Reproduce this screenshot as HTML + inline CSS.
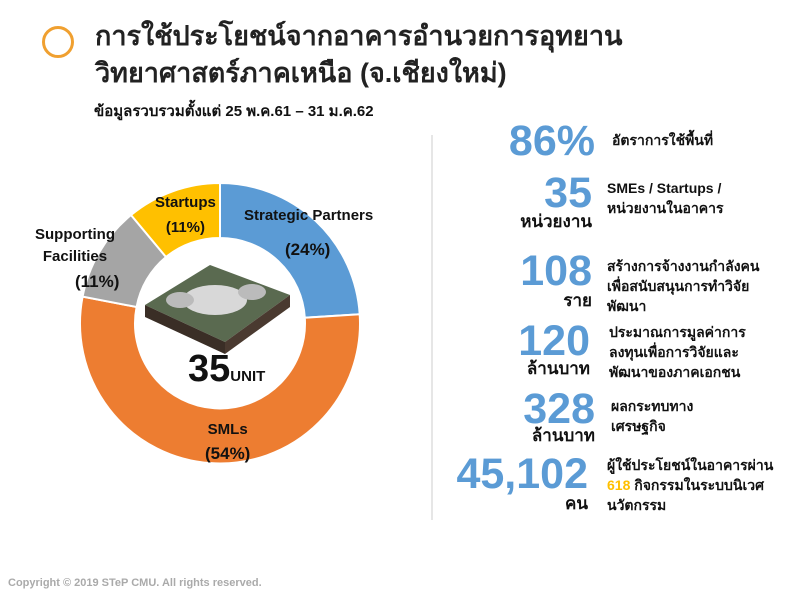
<!DOCTYPE html>
<html><head><meta charset="utf-8"><style>
body{margin:0;width:800px;height:594px;background:#fff;position:relative;overflow:hidden;font-family:"Liberation Sans","DejaVu Sans","Noto Sans CJK SC",sans-serif;font-weight:bold;color:#111}
.a{position:absolute;white-space:nowrap}
.n{color:#5b9bd5;font-size:43px;text-align:right;line-height:42px}
.u{font-size:17px;text-align:right}
.t{font-size:14px;line-height:20px}
</style></head><body>
<div class="a" style="left:42px;top:26px;width:26px;height:26px;border:3px solid #f0a030;border-radius:50%"></div>
<div class="a" style="left:95px;top:18px;font-size:27px;line-height:37px;color:#222">การใช้ประโยชน์จากอาคารอำนวยการอุทยาน<br>วิทยาศาสตร์ภาคเหนือ (จ.เชียงใหม่)</div>
<div class="a" style="left:94px;top:99px;font-size:15px">ข้อมูลรวบรวมตั้งแต่ 25 พ.ค.61 – 31 ม.ค.62</div>
<svg class="a" style="left:0;top:0" width="800" height="594">
<path d="M220,183 A140,140 0 0 1 359.7,314.3 L304.8,317.7 A85,85 0 0 0 220,238 Z" fill="#5b9bd5" stroke="#fff" stroke-width="2"/>
<path d="M359.7,314.3 A140,140 0 1 1 82.6,296.6 L136.6,307.0 A85,85 0 1 0 304.8,317.7 Z" fill="#ed7d31" stroke="#fff" stroke-width="2"/>
<path d="M82.6,296.6 A140,140 0 0 1 131,215 L166,257 A85,85 0 0 0 136.6,307.0 Z" fill="#a5a5a5" stroke="#fff" stroke-width="2"/>
<path d="M131,215 A140,140 0 0 1 220,183 L220,238 A85,85 0 0 0 166,257 Z" fill="#ffc000" stroke="#fff" stroke-width="2"/>
<polygon points="145,305 210,265 290,295 225,342" fill="#5a6a50"/>
<polygon points="145,305 225,342 225,354 145,317" fill="#3a2e26"/>
<polygon points="225,342 290,295 290,307 225,354" fill="#4a3a30"/>
<ellipse cx="215" cy="300" rx="32" ry="15" fill="#d8d8d8"/>
<ellipse cx="180" cy="300" rx="14" ry="8" fill="#bbb"/>
<ellipse cx="252" cy="292" rx="14" ry="8" fill="#bbb"/>
<line x1="432" y1="135" x2="432" y2="520" stroke="#ccc" stroke-width="1"/>
</svg>
<div class="a" style="left:155px;top:190px;font-size:15px;text-align:center;line-height:25px">Startups<br>(11%)</div>
<div class="a" style="left:244px;top:207px;font-size:15px">Strategic Partners</div>
<div class="a" style="left:285px;top:240px;font-size:17px">(24%)</div>
<div class="a" style="left:35px;top:224px;font-size:15px;text-align:center;line-height:22px">Supporting<br>Facilities</div>
<div class="a" style="left:75px;top:272px;font-size:17px">(11%)</div>
<div class="a" style="left:188px;top:348px;font-size:38px">35<span style="font-size:15px">UNIT</span></div>
<div class="a" style="left:205px;top:418px;font-size:15px;text-align:center;line-height:24px">SMLs<br><span style="font-size:17px">(54%)</span></div>

<div class="a n" style="right:205px;top:120px">86%</div>
<div class="a t" style="left:612px;top:130px">อัตราการใช้พื้นที่</div>
<div class="a n" style="right:208px;top:172px">35</div>
<div class="a u" style="right:208px;top:208px">หน่วยงาน</div>
<div class="a t" style="left:607px;top:178px">SMEs / Startups /<br>หน่วยงานในอาคาร</div>
<div class="a n" style="right:208px;top:250px">108</div>
<div class="a u" style="right:208px;top:287px">ราย</div>
<div class="a t" style="left:607px;top:256px">สร้างการจ้างงานกำลังคน<br>เพื่อสนับสนุนการทำวิจัย<br>พัฒนา</div>
<div class="a n" style="right:210px;top:320px">120</div>
<div class="a u" style="right:210px;top:355px">ล้านบาท</div>
<div class="a t" style="left:609px;top:322px">ประมาณการมูลค่าการ<br>ลงทุนเพื่อการวิจัยและ<br>พัฒนาของภาคเอกชน</div>
<div class="a n" style="right:205px;top:388px">328</div>
<div class="a u" style="right:205px;top:422px">ล้านบาท</div>
<div class="a t" style="left:611px;top:396px">ผลกระทบทาง<br>เศรษฐกิจ</div>
<div class="a n" style="right:212px;top:453px">45,102</div>
<div class="a u" style="right:212px;top:490px">คน</div>
<div class="a t" style="left:607px;top:455px">ผู้ใช้ประโยชน์ในอาคารผ่าน<br><span style="color:#ffc000">618</span> กิจกรรมในระบบนิเวศ<br>นวัตกรรม</div>
<div class="a" style="left:8px;top:577px;font-size:11px;color:#aaa">Copyright © 2019 STeP CMU. All rights reserved.</div>
</body></html>
